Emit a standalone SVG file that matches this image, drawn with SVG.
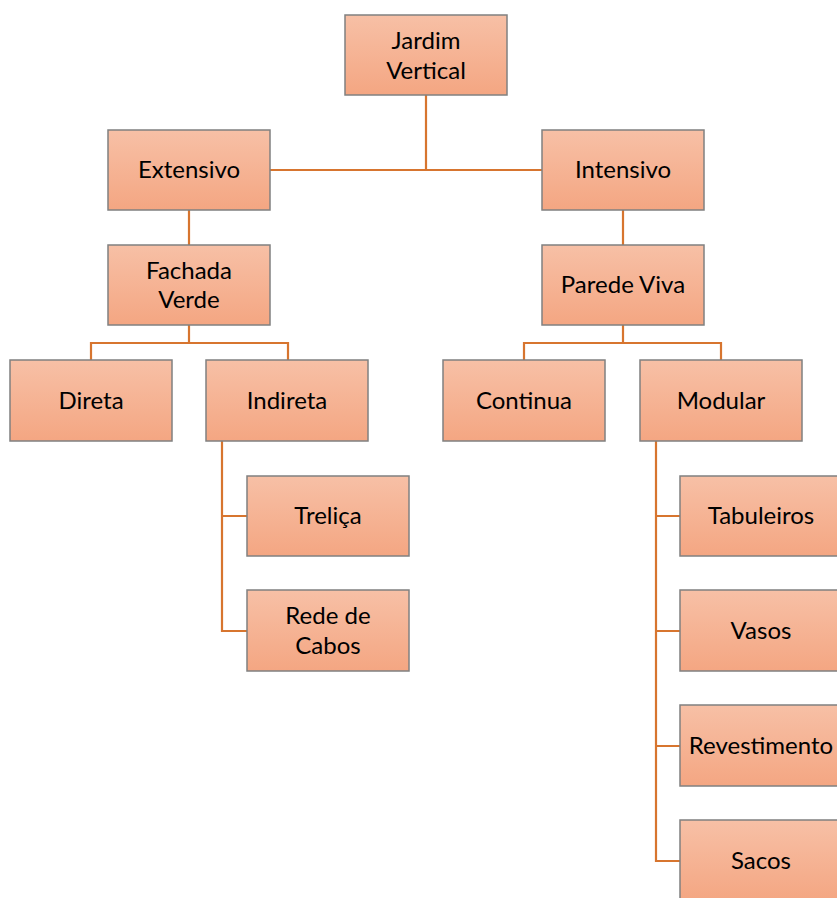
<svg xmlns="http://www.w3.org/2000/svg" width="837" height="898" viewBox="0 0 837 898">
<defs>
<linearGradient id="g" x1="0" y1="0" x2="0" y2="1">
<stop offset="0" stop-color="#F7C0A6"/>
<stop offset="1" stop-color="#F4A682"/>
</linearGradient>
<style>
.box{fill:url(#g);stroke:#808080;stroke-width:1.5}
.t{font-family:Lato,"Liberation Sans",sans-serif;font-weight:400;font-size:24px;fill:#000;text-anchor:middle}
.c{fill:none;stroke:#D7752F;stroke-width:2.2}
</style>
</defs>
<rect width="837" height="898" fill="#fff"/>
<g id="connectors">
<path class="c" d="M426 95V170M270 170H542"/>
<path class="c" d="M189 210V245M623 210V245"/>
<path class="c" d="M189 325V343M91 360V343H288V360"/>
<path class="c" d="M623 325V343M524 360V343H721V360"/>
<path class="c" d="M222 441V631H247M222 516H247"/>
<path class="c" d="M656 441V861H680M656 516H680M656 631H680M656 746H680"/>
</g>
<g id="jardim"><rect class="box" x="345" y="15" width="162" height="80"/><text class="t" x="426" y="49">Jardim</text><text class="t" x="426" y="79">Vertical</text></g>
<g id="extensivo"><rect class="box" x="108" y="130" width="162" height="80"/><text class="t" x="189" y="178">Extensivo</text></g>
<g id="intensivo"><rect class="box" x="542" y="130" width="162" height="80"/><text class="t" x="623" y="178">Intensivo</text></g>
<g id="fachada"><rect class="box" x="108" y="245" width="162" height="80"/><text class="t" x="189" y="279">Fachada</text><text class="t" x="189" y="308">Verde</text></g>
<g id="parede"><rect class="box" x="542" y="245" width="162" height="80"/><text class="t" x="623" y="293">Parede Viva</text></g>
<g id="direta"><rect class="box" x="10" y="360" width="162" height="81"/><text class="t" x="91" y="409">Direta</text></g>
<g id="indireta"><rect class="box" x="206" y="360" width="162" height="81"/><text class="t" x="287" y="409">Indireta</text></g>
<g id="continua"><rect class="box" x="443" y="360" width="162" height="81"/><text class="t" x="524" y="409">Continua</text></g>
<g id="modular"><rect class="box" x="640" y="360" width="162" height="81"/><text class="t" x="721" y="409">Modular</text></g>
<g id="trelica"><rect class="box" x="247" y="476" width="162" height="80"/><text class="t" x="328" y="524">Treliça</text></g>
<g id="rede"><rect class="box" x="247" y="590" width="162" height="81"/><text class="t" x="328" y="624">Rede de</text><text class="t" x="328" y="654">Cabos</text></g>
<g id="tabuleiros"><rect class="box" x="680" y="476" width="162" height="80"/><text class="t" x="761" y="524">Tabuleiros</text></g>
<g id="vasos"><rect class="box" x="680" y="590" width="162" height="81"/><text class="t" x="761" y="639">Vasos</text></g>
<g id="revestimento"><rect class="box" x="680" y="705" width="162" height="81"/><text class="t" x="761" y="754">Revestimento</text></g>
<g id="sacos"><rect class="box" x="680" y="820" width="162" height="81"/><text class="t" x="761" y="869">Sacos</text></g>
</svg>
